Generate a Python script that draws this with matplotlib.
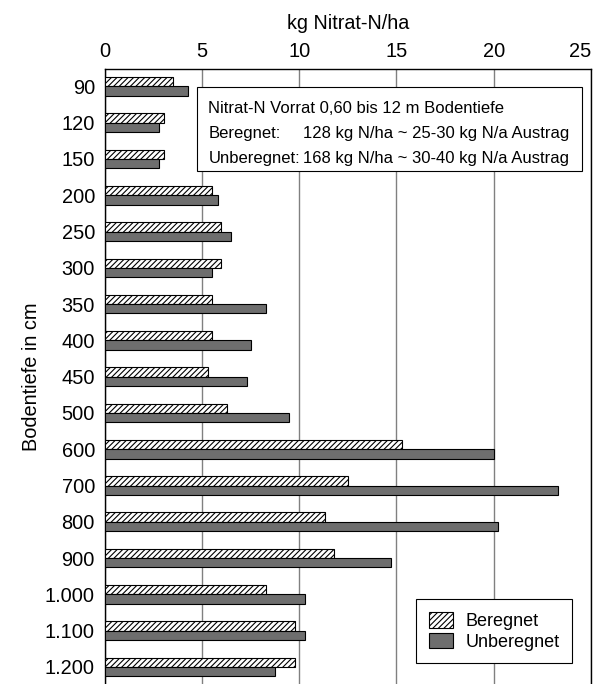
import numpy as np
import matplotlib
matplotlib.use("Agg")
import matplotlib.pyplot as plt
from matplotlib.patches import Patch, Rectangle

plt.rcParams['font.family'] = ['Liberation Sans', 'DejaVu Sans']
plt.rcParams['hatch.linewidth'] = 0.8

# Bodentiefe (cm) und Nitrat-N je Schicht (kg/ha)
tiefen = ['90', '120', '150', '200', '250', '300', '350', '400', '450', '500',
          '600', '700', '800', '900', '1.000', '1.100', '1.200']
beregnet = [3.5, 3.05, 3.05, 5.5, 6.0, 6.0, 5.5, 5.5, 5.3, 6.3,
            15.3, 12.5, 11.3, 11.8, 8.3, 9.8, 9.8]
unberegnet = [4.3, 2.8, 2.8, 5.8, 6.5, 5.5, 8.3, 7.5, 7.3, 9.5,
              20.0, 23.3, 20.2, 14.7, 10.3, 10.3, 8.75]
x_ticks = [0, 5, 10, 15, 20, 25]

fig = plt.figure(figsize=(6.0, 6.84), dpi=100)
ax = fig.add_axes([0.1745, 0.0, 0.8105, 0.8991])

y = np.arange(len(tiefen))
h = 0.257
ax.barh(y - h / 2, beregnet, height=h, color='white', edgecolor='black',
        hatch='//////', linewidth=0.8, label='Beregnet', zorder=3)
ax.barh(y + h / 2, unberegnet, height=h, color='#6e6e6e', edgecolor='black',
        linewidth=0.8, label='Unberegnet', zorder=3)

ax.set_xlim(0, 25)
ax.set_ylim(16.47, -0.48)
ax.set_xticks(x_ticks)
ax.xaxis.tick_top()
ax.xaxis.set_label_position('top')
ax.set_xlabel('kg Nitrat-N/ha', fontsize=14.2, labelpad=9)
ax.set_yticks(y)
ax.set_yticklabels(tiefen)
ax.set_ylabel('Bodentiefe in cm', fontsize=14.4, labelpad=3)
ax.tick_params(axis='both', length=0, labelsize=14.4)
ax.tick_params(axis='x', pad=6)
ax.tick_params(axis='y', pad=7)
# letzte Beschriftung am rechten Rand nach innen ziehen
ax.get_xticklabels()[-1].set_horizontalalignment('right')
ax.grid(axis='x', color='#808080', linewidth=1.0, zorder=0)
ax.spines['bottom'].set_visible(False)
for s in ('left', 'top', 'right'):
    ax.spines[s].set_color('black')
    ax.spines[s].set_linewidth(1.0)

# Textkasten mit Vorratsangaben
ax.add_patch(Rectangle((0.189, 0.8346), 0.792, 0.1356, transform=ax.transAxes,
                       facecolor='white', edgecolor='black', linewidth=0.8,
                       zorder=4))
zeilen = [('Nitrat-N Vorrat 0,60 bis 12 m Bodentiefe', ''),
          ('Beregnet:', '128 kg N/ha ~ 25-30 kg N/a Austrag'),
          ('Unberegnet:', '168 kg N/ha ~ 30-40 kg N/a Austrag')]
basis = [0.928, 0.8873, 0.8476]
for (links, rechts), yy in zip(zeilen, basis):
    ax.text(0.213, yy, links, transform=ax.transAxes, fontsize=12,
            va='baseline', zorder=5)
    if rechts:
        ax.text(0.4084, yy, rechts, transform=ax.transAxes, fontsize=12,
                va='baseline', zorder=5)

handles = [Patch(facecolor='white', edgecolor='black', hatch='//////', linewidth=0.8),
           Patch(facecolor='#6e6e6e', edgecolor='black', linewidth=0.8)]
leg = ax.legend(handles, ['Beregnet', 'Unberegnet'], loc='lower right',
                bbox_to_anchor=(0.9615, 0.0337), borderaxespad=0, fontsize=13,
                fancybox=False, framealpha=1, edgecolor='black',
                handlelength=1.33, handleheight=0.97, borderpad=0.7,
                labelspacing=0.15, handletextpad=0.7)
leg.get_frame().set_linewidth(0.8)
leg.set_zorder(5)

fig.savefig('out.png', dpi=100)
